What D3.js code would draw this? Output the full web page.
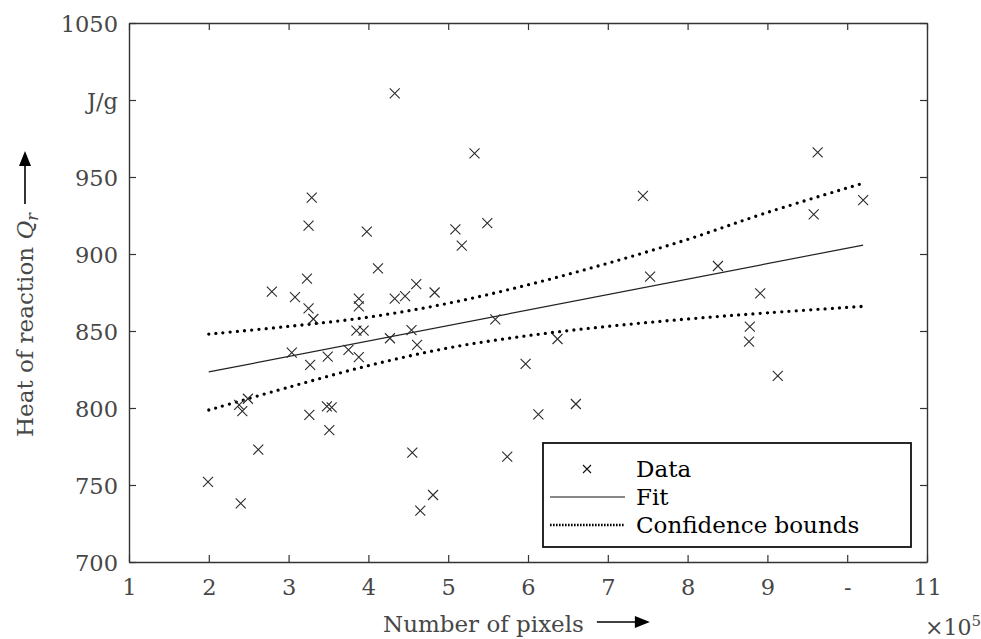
<!DOCTYPE html>
<html>
<head>
<meta charset="utf-8">
<title>Heat of reaction vs number of pixels</title>
<script src="https://cdn.jsdelivr.net/npm/d3@7"></script>
<style>
    body { margin: 0; background: #fff; }
    svg text { font-family: "DejaVu Serif", serif; }
</style>
</head>
<body>
<div id="chart-area"></div>
<script>

// number of pixels (x 10^5) and measured heat of reaction (J/g)
let pixels = [1.99, 2.40, 2.38, 2.42, 2.49, 2.62, 2.79, 3.04, 3.08, 3.23,
    3.25, 3.29, 3.25, 3.31, 3.27, 3.26, 3.48, 3.54, 3.51, 3.49,
    3.88, 3.88, 3.85, 3.94, 3.75, 3.88, 3.98, 4.12, 4.27, 4.33,
    4.33, 4.46, 4.54, 4.60, 4.61, 4.55, 4.65, 4.81, 4.83, 5.09,
    5.17, 5.33, 5.49, 5.59, 5.74, 5.97, 6.13, 6.37, 6.60, 7.44,
    7.53, 8.38, 8.77, 8.78, 8.91, 9.13, 9.58, 9.63, 10.2];
let heat = [752, 738, 802, 798, 806, 773, 875.5, 836, 872, 884,
    918.4, 936.6, 864.7, 857.8, 828, 795.5, 801, 800.4, 785.7, 833.3,
    871, 866, 850.2, 850.2, 837.7, 833, 914.5, 890.7, 845.3, 871,
    1004.3, 872.7, 850.6, 880.5, 841, 771, 733.3, 743.5, 875, 916,
    905.4, 965.4, 920, 857.6, 768.4, 828.6, 795.9, 844.8, 802.6, 937.7,
    885.3, 892.2, 843.1, 852.8, 874.5, 820.8, 925.8, 966, 935];

// linear fit (end points)
let fitX = [2, 10.2];
let fitY = [823.4, 905.8];

// confidence bounds
let boundX = [2, 3, 4, 5, 6, 7, 8, 9, 10.2];
let upperBound = [848, 853, 859, 868, 880, 894, 909.5, 927, 946];
let lowerBound = [798.7, 813.5, 827.5, 839, 847, 853, 857.8, 861.8, 866];

// axis ticks
let xTicks = [1, 2, 3, 4, 5, 6, 7, 8, 9, 10, 11];
let xTickLabels = ["1", "2", "3", "4", "5", "6", "7", "8", "9", "-", "11"];
let yTicks = [700, 750, 800, 850, 900, 950, 1000, 1050];
let yTickLabels = ["700", "750", "800", "850", "900", "950", "J/g", "1050"];

let legendLabels = ["Data", "Fit", "Confidence bounds"];


class FitVis {

    constructor(parentElement) {
        this.parentElement = parentElement;
        this.initVis();
    }

    initVis() {
        let vis = this;

        vis.margin = {top: 23, right: 54, bottom: 77, left: 129};
        vis.width = 981 - vis.margin.left - vis.margin.right;
        vis.height = 639 - vis.margin.top - vis.margin.bottom;

        vis.svg = d3.select("#" + vis.parentElement).append("svg")
            .attr("width", 981)
            .attr("height", 639);

        vis.g = vis.svg.append("g")
            .attr("transform", `translate(${vis.margin.left}, ${vis.margin.top})`);

        vis.x = d3.scaleLinear().domain([1, 11]).range([0, vis.width]);
        vis.y = d3.scaleLinear().domain([700, 1050]).range([vis.height, 0]);

        vis.drawAxes();
        vis.drawData();
        vis.drawLegend();
        vis.drawLabels();
    }

    drawAxes() {
        let vis = this;

        // ticks point inwards on all four sides
        let bottom = vis.g.append("g")
            .attr("transform", `translate(0, ${vis.height})`)
            .call(d3.axisBottom(vis.x).tickValues(xTicks)
                .tickFormat((d, i) => xTickLabels[i])
                .tickSizeInner(-7).tickSizeOuter(0));
        bottom.selectAll("text").attr("y", 33).attr("dy", null);

        let left = vis.g.append("g")
            .call(d3.axisLeft(vis.y).tickValues(yTicks)
                .tickFormat((d, i) => yTickLabels[i])
                .tickSizeInner(-7).tickSizeOuter(0).tickPadding(11));
        left.selectAll("text").attr("dy", "0.36em");

        let top = vis.g.append("g")
            .call(d3.axisTop(vis.x).tickValues(xTicks).tickFormat("")
                .tickSizeInner(-7).tickSizeOuter(0));

        let right = vis.g.append("g")
            .attr("transform", `translate(${vis.width}, 0)`)
            .call(d3.axisRight(vis.y).tickValues(yTicks).tickFormat("")
                .tickSizeInner(-7).tickSizeOuter(0));

        [bottom, left, top, right].forEach(ax => {
            ax.select(".domain").attr("stroke", "#333").attr("stroke-width", 1.4);
            ax.selectAll(".tick line").attr("stroke", "#333").attr("stroke-width", 1.2);
            ax.selectAll("text")
                .style("font-family", '"DejaVu Serif", serif')
                .attr("font-size", 22.5)
                .attr("fill", "#474747");
        });
    }

    drawData() {
        let vis = this;

        let line = d3.line()
            .x(d => vis.x(d[0]))
            .y(d => vis.y(d[1]));

        let curve = d3.line()
            .x(d => vis.x(d[0]))
            .y(d => vis.y(d[1]))
            .curve(d3.curveCatmullRom);

        // fit
        vis.g.append("path")
            .datum(fitX.map((d, i) => [d, fitY[i]]))
            .attr("d", line)
            .attr("fill", "none")
            .attr("stroke", "#222")
            .attr("stroke-width", 1.2);

        // confidence bounds
        [upperBound, lowerBound].forEach(bound => {
            vis.g.append("path")
                .datum(boundX.map((d, i) => [d, bound[i]]))
                .attr("d", curve)
                .attr("fill", "none")
                .attr("stroke", "#000")
                .attr("stroke-width", 3.3)
                .attr("stroke-linecap", "round")
                .attr("stroke-dasharray", "0 7.2");
        });

        // data crosses
        vis.g.selectAll(".cross")
            .data(pixels.map((d, i) => ({px: d, q: heat[i]})))
            .enter()
            .append("path")
            .attr("class", "cross")
            .attr("transform", d => `translate(${vis.x(d.px)}, ${vis.y(d.q)})`)
            .attr("d", "M-5,-5L5,5M-5,5L5,-5")
            .attr("fill", "none")
            .attr("stroke", "#2b2b2b")
            .attr("stroke-width", 1.1);
    }

    drawLegend() {
        let vis = this;

        let legend = vis.g.append("g")
            .attr("transform", "translate(414, 420)");

        legend.append("rect")
            .attr("width", 368)
            .attr("height", 104)
            .attr("fill", "#fff")
            .attr("stroke", "#111")
            .attr("stroke-width", 1.8);

        let rowY = [26, 54, 82];

        legend.append("path")
            .attr("transform", `translate(44, ${rowY[0]})`)
            .attr("d", "M-4,-4L4,4M-4,4L4,-4")
            .attr("stroke", "#111")
            .attr("stroke-width", 1.1);

        legend.append("line")
            .attr("x1", 7).attr("x2", 82)
            .attr("y1", rowY[1]).attr("y2", rowY[1])
            .attr("stroke", "#111")
            .attr("stroke-width", 1.2);

        legend.append("line")
            .attr("x1", 7).attr("x2", 82)
            .attr("y1", rowY[2]).attr("y2", rowY[2])
            .attr("stroke", "#000")
            .attr("stroke-width", 2.4)
            .attr("stroke-dasharray", "1.6 1.4");

        legend.selectAll(".legend-label")
            .data(legendLabels)
            .enter()
            .append("text")
            .attr("class", "legend-label")
            .attr("x", 93)
            .attr("y", (d, i) => rowY[i] + 8)
            .attr("font-size", 23)
            .attr("fill", "#000")
            .text(d => d);
    }

    drawLabels() {
        let vis = this;

        // y label with arrow
        let yLab = vis.svg.append("g")
            .attr("transform", "translate(33, 437) rotate(-90)");

        let yText = yLab.append("text")
            .attr("font-size", 23)
            .attr("fill", "#474747");
        yText.append("tspan").text("Heat of reaction ");
        yText.append("tspan").attr("font-style", "italic").text("Q");
        yText.append("tspan").attr("font-style", "italic")
            .attr("font-size", 16).attr("dy", 5).text("r");

        let yLen = yText.node().getComputedTextLength();
        vis.arrow(yLab, yLen + 9, yLen + 62, -8);

        // x label with arrow
        let xLab = vis.svg.append("g")
            .attr("transform", "translate(383, 632)");

        let xText = xLab.append("text")
            .attr("font-size", 23)
            .attr("fill", "#474747")
            .text("Number of pixels");

        let xLen = xText.node().getComputedTextLength();
        vis.arrow(xLab, xLen + 13, xLen + 66, -10);

        // exponent
        let expo = vis.svg.append("text")
            .attr("x", 925)
            .attr("y", 635)
            .attr("font-size", 22)
            .attr("fill", "#474747");
        expo.append("tspan").text("×10");
        expo.append("tspan").attr("font-size", 15).attr("dy", -9).text("5");
    }

    arrow(parent, x0, x1, yPos) {
        parent.append("line")
            .attr("x1", x0).attr("x2", x1 - 12)
            .attr("y1", yPos).attr("y2", yPos)
            .attr("stroke", "#000")
            .attr("stroke-width", 1.6);
        parent.append("path")
            .attr("d", `M${x1},${yPos}L${x1 - 15},${yPos - 6}L${x1 - 15},${yPos + 6}Z`)
            .attr("fill", "#000");
    }
}

let myFitVis = new FitVis("chart-area");

</script>
</body>
</html>
